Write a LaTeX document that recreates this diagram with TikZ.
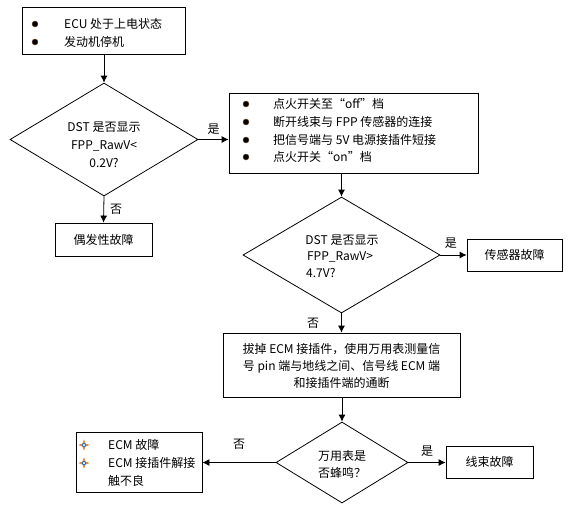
\documentclass[tikz,border=0pt]{standalone}
\usepackage{fontspec}
\setmainfont{Noto Sans CJK SC}
\usetikzlibrary{arrows.meta,shapes.geometric}
\tikzset{
  box/.style={draw, line width=0.8pt, inner sep=0pt},
  dia/.style={draw, diamond, line width=0.8pt, inner sep=0pt, aspect=1.6},
  txt/.style={inner sep=0pt, font=\fontsize{12}{14}\selectfont},
  flow/.style={line width=0.8pt, -{Latex[length=7pt,width=7pt]}},
  bul/.style={circle, fill=black, draw=brown!60!black, inner sep=0pt, minimum size=6pt},
  starline/.style={draw=orange!90!black, line width=0.7pt, line join=miter},
  starcore/.style={draw=blue!60!cyan, line width=0.7pt},
}
\newcommand{\starbul}[1]{%
  \draw[starline] ($(#1)+(-4.5,0)$) -- ($(#1)+(-1.2,-1.2)$) -- ($(#1)+(0,-4.5)$) -- ($(#1)+(1.2,-1.2)$) -- ($(#1)+(4.5,0)$) -- ($(#1)+(1.2,1.2)$) -- ($(#1)+(0,4.5)$) -- ($(#1)+(-1.2,1.2)$) -- cycle;
  \draw[starcore] ($(#1)+(-2,0)$) -- ($(#1)+(0,-2)$) -- ($(#1)+(2,0)$) -- ($(#1)+(0,2)$) -- cycle;}
\usetikzlibrary{calc}
\begin{document}
\begin{tikzpicture}[x=1pt,y=-1pt]
\useasboundingbox (0,0) rectangle (573,515);
% box 1
\node[box, minimum width=163pt, minimum height=47pt] (b1) at (103.5,31) {};
\node[bul] (b1d1) at (35,24) {};
\node[bul] (b1d2) at (35,42) {};
\node[txt, anchor=west] (b1t1) at (64,24) {ECU 处于上电状态};
\node[txt, anchor=west] (b1t2) at (64,42) {发动机停机};
% diamond 1
\node[dia, minimum width=188pt, minimum height=113pt] (d1) at (104,139.5) {};
\node[txt, align=center] (d1t) at (104,145) {DST 是否显示\\[4pt]FPP\_RawV<\\[4pt]0.2V?};
% box 2
\node[box, minimum width=249pt, minimum height=80pt] (b2) at (353.5,133) {};
\foreach \i/\yy/\t in {1/104/{点火开关至“off”档},2/122/{断开线束与 FPP 传感器的连接},3/140/{把信号端与 5V 电源接插件短接},4/157/{点火开关“on”档}}{
  \node[bul] (b2d\i) at (246,\yy) {};
  \node[txt, anchor=west] (b2t\i) at (273,\yy) {\t};
}
% box 6
\node[box, minimum width=97pt, minimum height=33pt] (b6) at (103.5,239.5) {};
\node[txt] (b6t) at (103.5,239.5) {偶发性故障};
% diamond 2
\node[dia, minimum width=197pt, minimum height=116pt] (d2) at (341.5,255) {};
\node[txt, anchor=center] (d2t1) at (342,240) {DST 是否显示};
\node[txt, anchor=center] (d2t2) at (340,257) {FPP\_RawV>};
\node[txt, anchor=west] (d2t3) at (306,273) {4.7V?};
% box sensor
\node[box, minimum width=95pt, minimum height=32pt] (b7) at (514.5,255) {};
\node[txt] (b7t) at (514.5,255) {传感器故障};
% box 3
\node[box, minimum width=237pt, minimum height=64pt] (b3) at (341.5,365) {};
\node[txt, align=center] (b3t) at (341.5,366) {拔掉 ECM 接插件，使用万用表测量信\\[3pt]号 pin 端与地线之间、信号线 ECM 端\\[3pt]和接插件端的通断};
% diamond 3
\node[dia, minimum width=132pt, minimum height=81pt] (d3) at (342,462.5) {};
\node[txt, align=center] (d3t) at (342,464) {万用表是\\[3pt]否蜂鸣？};
% box 4
\node[box, minimum width=126pt, minimum height=60pt] (b4) at (139,462) {};
\coordinate (s1) at (84,445);
\coordinate (s2) at (84,463);
\starbul{s1}
\starbul{s2}
\node[txt, anchor=west] (b4t1) at (108,445) {ECM 故障};
\node[txt, anchor=west] (b4t2) at (108,463) {ECM 接插件解接};
\node[txt, anchor=west] (b4t3) at (108,481) {触不良};
% box 5
\node[box, minimum width=87pt, minimum height=32pt] (b5) at (489.5,462) {};
\node[txt] (b5t) at (489.5,462) {线束故障};
% connectors
\draw[flow] (b1.south -| d1.north) -- (d1.north);
\draw[flow] (d1.east) -- (d1.east -| b2.west) node[txt, midway, above=5pt] (l1) {是};
\draw[flow] (d1.south) -- (b6.north) node[txt, midway, right=6pt] (l2) {否};
\draw[flow] (b2.south -| d2.north) -- (d2.north);
\draw[flow] (d2.east) -- (d2.east -| b7.west) node[txt, pos=0.4, above=6pt] (l3) {是};
\draw[flow] (d2.south) -- (d2.south |- b3.north) node[txt, midway, left=22pt] (l4) {否};
\draw[flow] (b3.south -| d3.north) -- (d3.north);
\draw[flow] (d3.west) -- (d3.west -| b4.east) node[txt, midway, above=13pt] (l5) {否};
\draw[flow] (d3.east) -- (d3.east -| b5.west) node[txt, midway, above=6pt] (l6) {是};
\end{tikzpicture}
\end{document}
